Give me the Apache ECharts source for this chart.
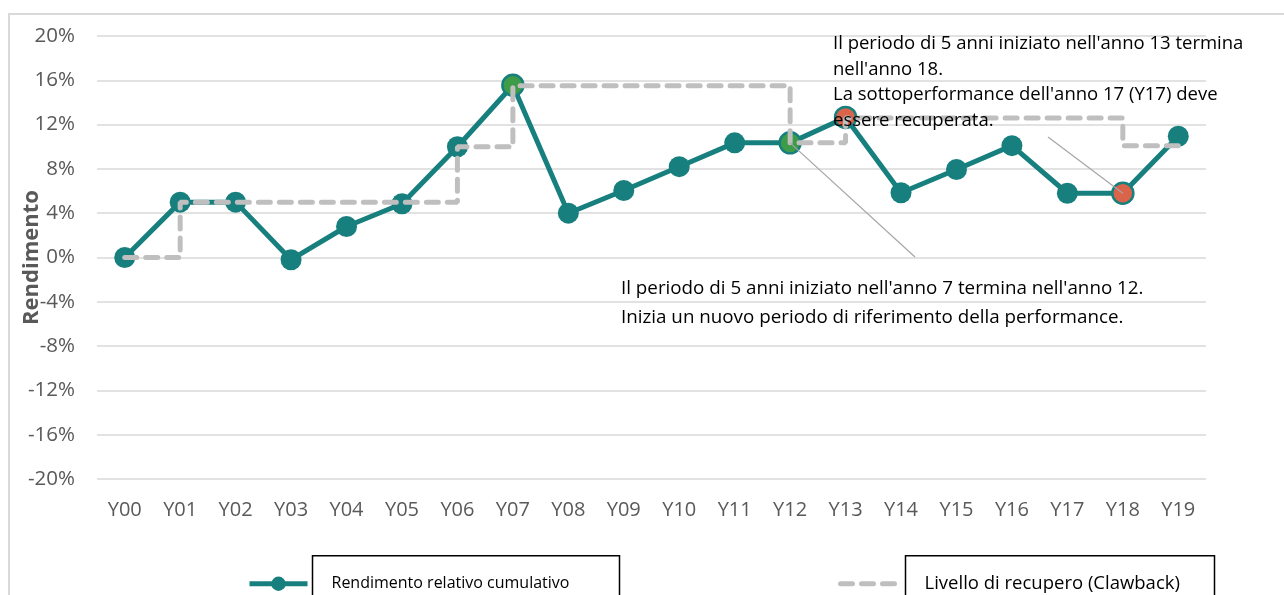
<!DOCTYPE html>
<html>
<head>
<meta charset="utf-8">
<script src="https://cdn.jsdelivr.net/npm/echarts@6/dist/echarts.min.js"></script>
<style>
html,body{margin:0;padding:0;background:#fff;}
#chart{width:1284px;height:595px;}
</style>
</head>
<body>
<div id="chart"></div>
<script>
// ---- data ----
const categories = ['Y00','Y01','Y02','Y03','Y04','Y05','Y06','Y07','Y08','Y09','Y10','Y11','Y12','Y13','Y14','Y15','Y16','Y17','Y18','Y19'];
const cumulativeReturn = [0, 5.0, 5.0, -0.2, 2.8, 4.85, 10.0, 15.55, 4.0, 6.05, 8.2, 10.35, 10.35, 12.65, 5.85, 7.95, 10.1, 5.8, 5.8, 10.95];
const clawbackLevel = [0, 5.0, 5.0, 5.0, 5.0, 5.0, 10.0, 15.5, 15.5, 15.5, 15.5, 15.5, 10.35, 12.6, 12.6, 12.6, 12.6, 12.6, 10.1, 10.1];
const periodEndPoints = ['Y07', 'Y12'];      // green markers
const underperformPoints = ['Y13', 'Y18'];   // orange markers
const yTicks = { min: -20, max: 20, interval: 4 };
const seriesNames = ['Rendimento relativo cumulativo', 'Livello di recupero (Clawback)'];
const axisTitle = 'Rendimento';
const note1 = "Il periodo di 5 anni iniziato nell'anno 13 termina\nnell'anno 18.\nLa sottoperformance dell'anno 17 (Y17) deve\nessere recuperata.";
const note2 = "Il periodo di 5 anni iniziato nell'anno 7 termina nell'anno 12.\nInizia un nuovo periodo di riferimento della performance.";

// ---- style ----
const TEAL = '#17807e';
const GREEN = '#3e9b47';
const ORANGE = '#d9644a';
const GRAY = '#bfbfbf';
const LABEL = '#595959';
const FONT = "'Open Sans', 'Noto Sans', sans-serif";

const chart = echarts.init(document.getElementById('chart'), null, { renderer: 'canvas' });

const mainData = cumulativeReturn.map((v, i) => {
  const c = categories[i];
  if (periodEndPoints.includes(c)) {
    return { value: v, itemStyle: { color: GREEN, borderColor: TEAL, borderWidth: 2.5 } };
  }
  if (underperformPoints.includes(c)) {
    return { value: v, itemStyle: { color: ORANGE, borderColor: TEAL, borderWidth: 2.5 } };
  }
  return v;
});

const option = {
  animation: false,
  backgroundColor: '#fff',
  textStyle: { fontFamily: FONT },
  grid: { left: 97, right: 78, top: 36, bottom: 116, containLabel: false, outerBoundsMode: 'none' },
  xAxis: {
    type: 'category',
    data: categories,
    boundaryGap: true,
    axisLine: { show: false },
    axisTick: { show: false },
    axisLabel: { color: LABEL, fontSize: 20, fontFamily: FONT, margin: 21 }
  },
  yAxis: {
    type: 'value',
    min: yTicks.min,
    max: yTicks.max,
    interval: yTicks.interval,
    axisLabel: { color: LABEL, fontSize: 20.5, fontFamily: FONT, margin: 22, formatter: '{value}%' },
    axisLine: { show: false },
    axisTick: { show: false },
    splitLine: { lineStyle: { color: '#d9d9d9', width: 1.5 } },
    name: axisTitle,
    nameLocation: 'middle',
    nameGap: 54,
    nameMoveOverlap: false,
    nameTextStyle: { color: LABEL, fontSize: 22, fontWeight: 'bold', fontFamily: FONT }
  },
  legend: [
    {
      data: [seriesNames[0]],
      left: 247, top: 555, padding: 0,
      itemWidth: 58, itemHeight: 18,
      lineStyle: { width: 5 },
      textStyle: {
        fontSize: 16, color: '#000', fontFamily: FONT,
        borderColor: '#000', borderWidth: 1.5,
        width: 278, padding: [1, 10, 35, 19], lineHeight: 20
      }
    },
    {
      data: [seriesNames[1]],
      left: 838, top: 555, padding: 0,
      itemWidth: 60, itemHeight: 18,
      lineStyle: { width: 5, type: [12, 9], cap: 'round' },
      itemStyle: { opacity: 0 },
      textStyle: {
        fontSize: 18.5, color: '#000', fontFamily: FONT,
        borderColor: '#000', borderWidth: 1.5,
        width: 280, padding: [0, 10, 36, 19], lineHeight: 20
      }
    }
  ],
  series: [
    {
      name: seriesNames[0],
      type: 'line',
      data: mainData,
      symbol: 'circle',
      symbolSize: 21,
      lineStyle: { color: TEAL, width: 5 },
      itemStyle: { color: TEAL },
      z: 2
    },
    {
      name: seriesNames[1],
      type: 'line',
      data: clawbackLevel,
      step: 'end',
      symbol: 'none',
      lineStyle: { color: GRAY, width: 5, type: [12, 9], cap: 'round' },
      itemStyle: { color: GRAY },
      z: 3
    }
  ]
};
chart.setOption(option);

// annotations, anchored on data points via the chart's own scales
const i12 = categories.indexOf('Y12');
const i18 = categories.indexOf('Y18');
const p12 = chart.convertToPixel({ seriesIndex: 0 }, [i12, cumulativeReturn[i12]]);
const p18 = chart.convertToPixel({ seriesIndex: 0 }, [i18, cumulativeReturn[i18]]);

chart.setOption({
  graphic: [
    { type: 'rect', silent: true, z: 0, shape: { x: 9, y: 14, width: 1400, height: 700 },
      style: { fill: 'none', stroke: '#d9d9d9', lineWidth: 2 } },
    { type: 'line', silent: true, z: 10, shape: { x1: p12[0], y1: p12[1], x2: 915, y2: 257 },
      style: { stroke: '#a6a6a6', lineWidth: 1.2 } },
    { type: 'line', silent: true, z: 10, shape: { x1: 1048, y1: 137, x2: p18[0], y2: p18[1] },
      style: { stroke: '#a6a6a6', lineWidth: 1.2 } },
    { type: 'text', silent: true, z: 20, left: 833, top: 31,
      style: { text: note1, fill: '#000', font: "18.5px " + FONT, lineHeight: 25.5 } },
    { type: 'text', silent: true, z: 20, left: 621, top: 274,
      style: { text: note2, fill: '#000', font: "18.8px " + FONT, lineHeight: 29 } }
  ]
});
</script>
</body>
</html>
